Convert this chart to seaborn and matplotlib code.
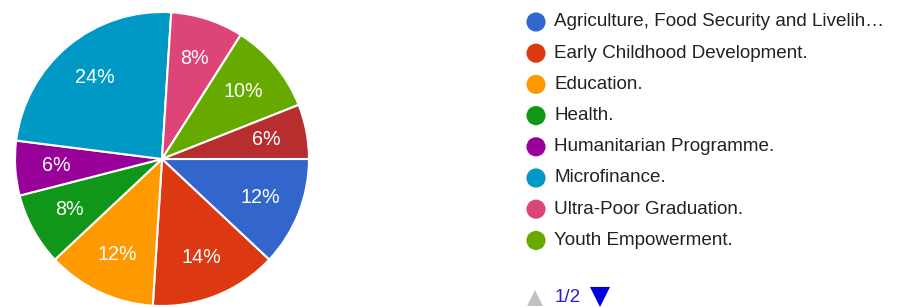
import matplotlib
matplotlib.use('Agg')
import matplotlib.pyplot as plt
import seaborn as sns
import pandas as pd

# slice data, clockwise from 3 o'clock
categories = ['Agriculture, Food Security and Livelih\u2026', 'Early Childhood Development.',
              'Education.', 'Health.', 'Humanitarian Programme.', 'Microfinance.',
              'Ultra-Poor Graduation.', 'Youth Empowerment.', 'Other (page 2)']
shares = [12, 14, 12, 8, 6, 24, 8, 10, 6]
colors = ['#3366cc', '#dc3912', '#ff9900', '#109618', '#990099', '#0099c6',
          '#dd4477', '#66aa00', '#b82e2e']
legend_count = 8  # first legend page shows 8 entries
page_label = '1/2'

sns.set_theme(style='white')
plt.rcParams['font.family'] = ['Liberation Sans', 'DejaVu Sans']

W, H = 906, 307
fig = plt.figure(figsize=(W / 100, H / 100), dpi=100)

# pie axes: center (162, 159) px, radius 147 px
cx, cy, r = 162, 159, 147
ax = fig.add_axes([(cx - r) / W, (H - cy - r) / H, 2 * r / W, 2 * r / H])
ax.pie(shares, colors=colors, startangle=0, counterclock=False,
       autopct=lambda p: f'{p:.0f}%', pctdistance=0.72, radius=1,
       wedgeprops=dict(edgecolor='white', linewidth=1.5),
       textprops=dict(color='white', fontsize=14.2))
ax.set_xlim(-1, 1)
ax.set_ylim(-1, 1)
ax.set_aspect('equal')
ax.axis('off')

# legend axes in pixel coordinates
lax = fig.add_axes([0, 0, 1, 1])
lax.set_xlim(0, W)
lax.set_ylim(H, 0)
lax.axis('off')

leg = pd.DataFrame({'name': categories[:legend_count],
                    'x': [536] * legend_count,
                    'y': [22 + 31.2 * i for i in range(legend_count)]})
sns.scatterplot(data=leg, x='x', y='y', hue='name', palette=colors[:legend_count],
                s=190, edgecolor='none', legend=False, ax=lax)
for _, row in leg.iterrows():
    lax.text(row['x'] + 18, row['y'], row['name'], fontsize=13.6, color='#222222',
             va='center', ha='left')

# pagination
lax.scatter([535], [298], marker='^', s=130, color='#c0c0c0', edgecolor='none')
lax.text(555, 298, page_label, fontsize=13.6, color='#2222cc', va='center', ha='left')
lax.scatter([600], [297], marker='v', s=210, color='#0000dd', edgecolor='none')

fig.savefig('out.png', dpi=100, facecolor='white')
